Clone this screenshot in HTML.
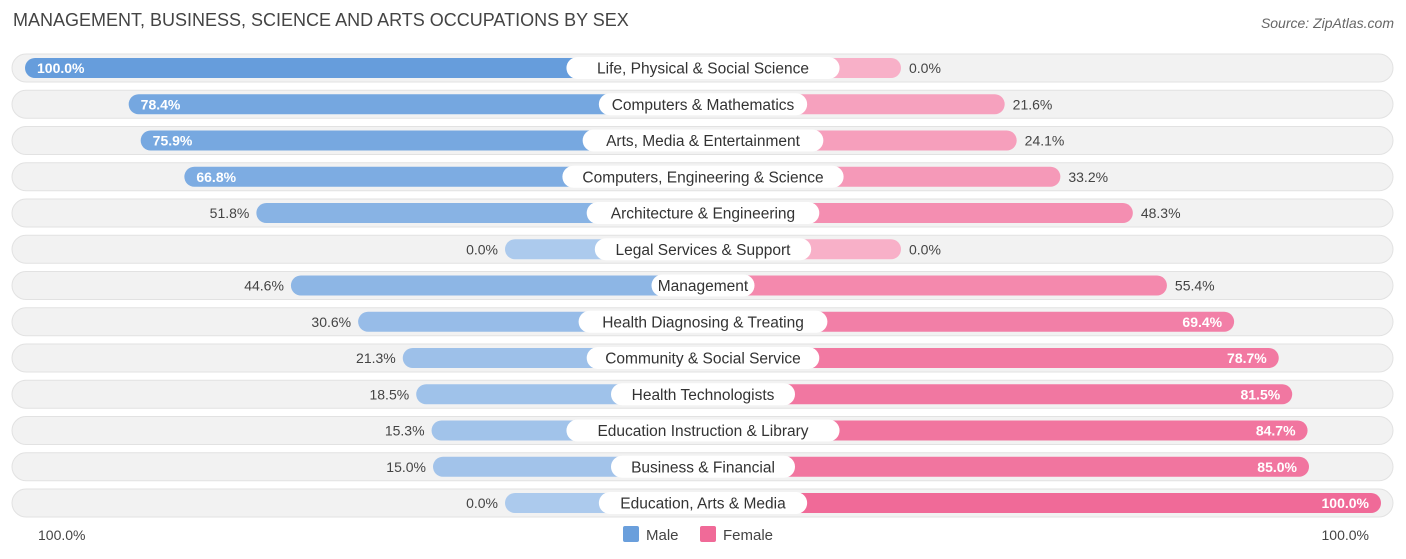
<!DOCTYPE html>
<html><head><meta charset="utf-8"><style>
body{margin:0;width:1406px;height:559px;background:#fff;font-family:"Liberation Sans",sans-serif;position:relative;overflow:hidden}
.title{position:absolute;left:13px;top:10px;font-size:18px;color:#444}
.src{position:absolute;right:12px;top:15px;font-size:14px;font-style:italic;color:#666}
svg{position:absolute;left:0;top:0}
</style></head><body>
<div class="title">MANAGEMENT, BUSINESS, SCIENCE AND ARTS OCCUPATIONS BY SEX</div>
<div class="src">Source: ZipAtlas.com</div>
<svg id="chart" width="1406" height="559"></svg>
<script>
const categories=["Life, Physical & Social Science","Computers & Mathematics","Arts, Media & Entertainment","Computers, Engineering & Science","Architecture & Engineering","Legal Services & Support","Management","Health Diagnosing & Treating","Community & Social Service","Health Technologists","Education Instruction & Library","Business & Financial","Education, Arts & Media"];
const maleValues=[100.0,78.4,75.9,66.8,51.8,0.0,44.6,30.6,21.3,18.5,15.3,15.0,0.0];
const femaleValues=[0.0,21.6,24.1,33.2,48.3,0.0,55.4,69.4,78.7,81.5,84.7,85.0,100.0];
const svg=document.getElementById('chart');const NS='http://www.w3.org/2000/svg';
const cx=703,off=198,sc=4.8,y0=68,dy=36.25;
const xM=v=>cx-off-v*sc, xF=v=>cx+off+v*sc, yR=i=>y0+i*dy;
function mix(a,b,t){return 'rgb('+a.map((c,i)=>Math.round(c+(b[i]-c)*t)).join(',')+')';}
function el(t,a,txt){const e=document.createElementNS(NS,t);for(const k in a)e.setAttribute(k,a[k]);if(txt!=null)e.textContent=txt;svg.appendChild(e);return e;}
categories.forEach((c,i)=>{
 const y=yR(i),m=maleValues[i],f=femaleValues[i];
 const bg=el('rect',{x:12,y:y-14,width:1381,height:28,rx:14,fill:'#f2f2f2',stroke:'#e2e2e2'});
 
 const mb=el('rect',{x:xM(m),y:y-10,width:cx-xM(m),height:20,rx:10,fill:mix([172,202,237],[102,157,220],m/100)});
 
 const fb=el('rect',{x:cx,y:y-10,width:xF(f)-cx,height:20,rx:10,fill:mix([248,176,200],[240,106,152],f/100)});
 
 const w=c.length*8.1+22;
 const lb=el('rect',{x:cx-w/2,y:y-11,width:w,height:22,rx:11,fill:'#fff'});
 
 const lt=el('text',{x:cx,y:y+5.5,'text-anchor':'middle','font-size':15.5,fill:'#333'},c);
 
 const mIn=m>=60;
 const mt=el('text',{x:mIn?xM(m)+12:xM(m)-7,y:y+5,'text-anchor':mIn?'start':'end','font-size':14,fill:mIn?'#fff':'#444','font-weight':mIn?'bold':'normal'},m.toFixed(1)+'%');
 
 const fIn=f>=60;
 const ft=el('text',{x:fIn?xF(f)-12:xF(f)+8,y:y+5,'text-anchor':fIn?'end':'start','font-size':14,fill:fIn?'#fff':'#444','font-weight':fIn?'bold':'normal'},f.toFixed(1)+'%');
 
});
const a1=el('text',{x:38,y:540,'font-size':14,fill:'#444'},'100.0%');

const a2=el('text',{x:1369,y:540,'text-anchor':'end','font-size':14,fill:'#444'},'100.0%');

const l1=el('rect',{x:623,y:526,width:16,height:16,rx:2,fill:'#6a9fdc'});

const l2=el('text',{x:646,y:540,'font-size':15,fill:'#444'},'Male');

const l3=el('rect',{x:700,y:526,width:16,height:16,rx:2,fill:'#f06a98'});

const l4=el('text',{x:723,y:540,'font-size':15,fill:'#444'},'Female');

</script>
</body></html>
